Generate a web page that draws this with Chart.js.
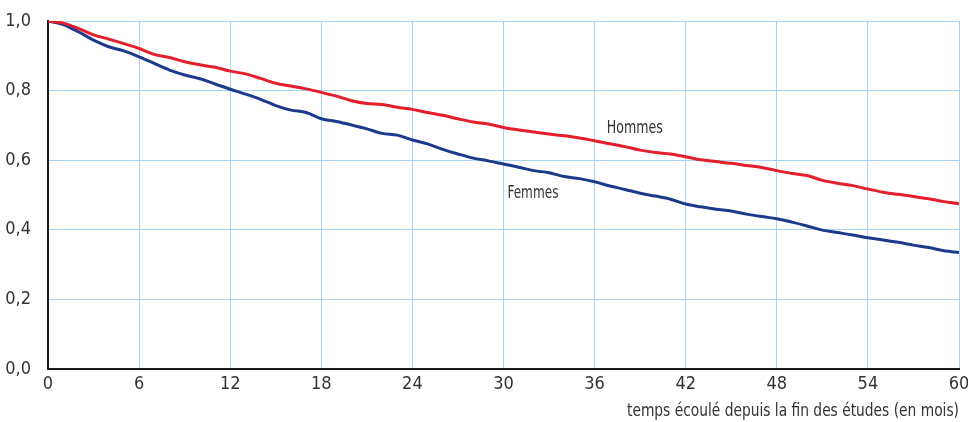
<!DOCTYPE html>
<html lang="fr">
<head>
<meta charset="utf-8">
<title>Part restant sans emploi</title>
<script src="https://cdn.jsdelivr.net/npm/chart.js@4.4.1/dist/chart.umd.min.js"></script>
<style>
  html, body { margin: 0; padding: 0; background: #fff; }
  #wrap { width: 968px; height: 422px; position: relative; }
</style>
</head>
<body>
<div id="wrap"><canvas id="courbes"></canvas></div>
<script>
// mois écoulés depuis la fin des études
const mois = [
  0, 1, 2, 3, 4, 5, 6, 7, 8, 9, 10, 11, 12, 13, 14, 15, 16, 17, 18, 19, 20,
  21, 22, 23, 24, 25, 26, 27, 28, 29, 30, 31, 32, 33, 34, 35, 36, 37, 38, 39, 40,
  41, 42, 43, 44, 45, 46, 47, 48, 49, 50, 51, 52, 53, 54, 55, 56, 57, 58, 59, 60
];

const hommes = [
  1.000, 0.994, 0.979, 0.960, 0.948, 0.935, 0.921, 0.904, 0.895, 0.883, 0.874,
  0.867, 0.856, 0.848, 0.835, 0.821, 0.813, 0.805, 0.795, 0.784, 0.771,
  0.763, 0.760, 0.752, 0.746, 0.737, 0.729, 0.719, 0.710, 0.704, 0.694,
  0.687, 0.681, 0.675, 0.670, 0.664, 0.656, 0.647, 0.639, 0.629, 0.622,
  0.618, 0.610, 0.601, 0.596, 0.591, 0.585, 0.579, 0.570, 0.562, 0.556,
  0.542, 0.534, 0.527, 0.517, 0.508, 0.502, 0.496, 0.489, 0.481, 0.475
];

const femmes = [
  1.000, 0.990, 0.969, 0.945, 0.926, 0.914, 0.897, 0.878, 0.859, 0.845, 0.834,
  0.819, 0.804, 0.790, 0.775, 0.757, 0.744, 0.737, 0.719, 0.711, 0.701,
  0.690, 0.677, 0.672, 0.658, 0.647, 0.631, 0.618, 0.606, 0.598, 0.589,
  0.580, 0.570, 0.564, 0.553, 0.547, 0.538, 0.526, 0.516, 0.505, 0.497,
  0.488, 0.474, 0.466, 0.459, 0.454, 0.445, 0.438, 0.432, 0.422, 0.411,
  0.399, 0.392, 0.385, 0.377, 0.371, 0.364, 0.356, 0.349, 0.340, 0.335
];

const xTicks = [0, 6, 12, 18, 24, 30, 36, 42, 48, 54, 60];
const yTicks = [0, 0.2, 0.4, 0.6, 0.8, 1.0];

const titreX = 'temps écoulé depuis la fin des études (en mois)';

// étiquettes posées dans le graphique (coordonnées en valeurs des axes)
const etiquettes = [
  { texte: 'Hommes', x: 36.8, y: 0.692, largeur: 56 },
  { texte: 'Femmes', x: 30.26, y: 0.503, largeur: 51 }
];

const POLICE = "'DejaVu Sans Condensed', 'Liberation Sans', sans-serif";
const GRIS = '#333333';
const BLEU_GRILLE = '#a9d5f2';

// textes dessinés à la main : noms des courbes et titre de l'axe x
const textesPlugin = {
  id: 'textes',
  afterDatasetsDraw(chart) {
    const ctx = chart.ctx;
    const sx = chart.scales.x;
    const sy = chart.scales.y;
    ctx.save();
    ctx.fillStyle = GRIS;
    ctx.textBaseline = 'middle';
    ctx.font = '17px ' + POLICE;
    ctx.textAlign = 'left';
    etiquettes.forEach(e => {
      ctx.fillText(e.texte, sx.getPixelForValue(e.x), sy.getPixelForValue(e.y), e.largeur);
    });
    // titre de l'axe, aligné à droite sous les graduations
    ctx.font = '18px ' + POLICE;
    ctx.textAlign = 'right';
    ctx.fillText(titreX, chart.chartArea.right, chart.chartArea.bottom + 42, 332);
    ctx.restore();
  }
};

const ctx = document.getElementById('courbes').getContext('2d');
new Chart(ctx, {
  type: 'line',
  data: {
    datasets: [
      {
        label: 'Hommes',
        data: mois.map((m, i) => ({ x: m, y: hommes[i] })),
        borderColor: '#e41e2b',
        borderWidth: 3,
        pointRadius: 0,
        cubicInterpolationMode: 'monotone'
      },
      {
        label: 'Femmes',
        data: mois.map((m, i) => ({ x: m, y: femmes[i] })),
        borderColor: '#1b3a8c',
        borderWidth: 3,
        pointRadius: 0,
        cubicInterpolationMode: 'monotone'
      }
    ]
  },
  options: {
    responsive: true,
    maintainAspectRatio: false,
    animation: false,
    layout: { padding: { top: 21, right: 9, bottom: 0, left: 0 } },
    plugins: {
      legend: { display: false },
      tooltip: { enabled: false }
    },
    scales: {
      x: {
        type: 'linear',
        min: 0,
        max: 60,
        afterBuildTicks: s => { s.ticks = xTicks.map(v => ({ value: v })); },
        afterFit: s => {
          s.height = 53;
          s.paddingLeft = 0;
          s.paddingRight = 0;
        },
        ticks: {
          color: GRIS,
          font: { family: POLICE, size: 18 },
          padding: 5,
          maxRotation: 0
        },
        grid: { color: BLEU_GRILLE, lineWidth: 1, drawTicks: false },
        border: { color: '#1a1a1a', width: 2 }
      },
      y: {
        min: 0,
        max: 1,
        afterBuildTicks: s => { s.ticks = yTicks.map(v => ({ value: v })); },
        afterFit: s => {
          s.width = 48;
          s.paddingTop = 0;
          s.paddingBottom = 0;
        },
        ticks: {
          color: GRIS,
          font: { family: POLICE, size: 18 },
          padding: 17,
          callback: v => v.toFixed(1).replace('.', ',')
        },
        grid: { color: BLEU_GRILLE, lineWidth: 1, drawTicks: false },
        border: { color: '#1a1a1a', width: 2 }
      }
    }
  },
  plugins: [textesPlugin]
});
</script>
</body>
</html>
